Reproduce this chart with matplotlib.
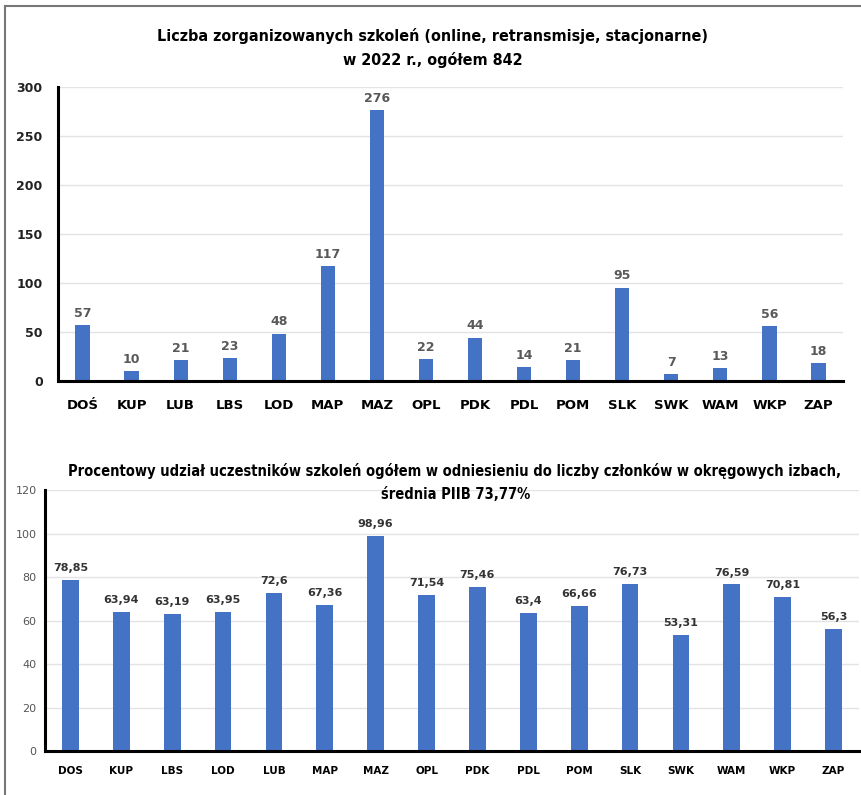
import matplotlib
matplotlib.use('Agg')
import matplotlib.pyplot as plt
from matplotlib.lines import Line2D

# Dane - liczba szkoleń
izby_1 = ['DOŚ', 'KUP', 'LUB', 'LBS', 'LOD', 'MAP', 'MAZ', 'OPL',
          'PDK', 'PDL', 'POM', 'SLK', 'SWK', 'WAM', 'WKP', 'ZAP']
szkolenia = [57, 10, 21, 23, 48, 117, 276, 22, 44, 14, 21, 95, 7, 13, 56, 18]

# Dane - udział procentowy uczestników
izby_2 = ['DOS', 'KUP', 'LBS', 'LOD', 'LUB', 'MAP', 'MAZ', 'OPL',
          'PDK', 'PDL', 'POM', 'SLK', 'SWK', 'WAM', 'WKP', 'ZAP']
udzial = [78.85, 63.94, 63.19, 63.95, 72.6, 67.36, 98.96, 71.54,
          75.46, 63.4, 66.66, 76.73, 53.31, 76.59, 70.81, 56.3]

ticks_1 = [0, 50, 100, 150, 200, 250, 300]
ticks_2 = [0, 20, 40, 60, 80, 100, 120]

KOLOR = '#4472C4'
TITLE_FONT = dict(family='DejaVu Sans', fontstretch='condensed', fontweight='bold')

fig = plt.figure(figsize=(8.62, 7.95), dpi=100)


def styl_osi(ax, ticks, size_ticks, weight_ticks, color_ticks, pad_ticks, size_cat, pad_cat):
    ax.set_yticks(ticks)
    ax.set_ylim(ticks[0], ticks[-1])
    ax.set_xlim(-0.5, 15.5)
    ax.grid(axis='y', color='#e3e3e3', linewidth=1)
    ax.set_axisbelow(True)
    for s in ['top', 'right']:
        ax.spines[s].set_visible(False)
    ax.spines['left'].set_linewidth(2.2)
    ax.spines['bottom'].set_linewidth(2.2)
    ax.tick_params(axis='y', length=0, pad=pad_ticks, labelsize=size_ticks, labelcolor=color_ticks)
    ax.tick_params(axis='x', length=0, pad=pad_cat, labelsize=size_cat)
    for t in ax.get_yticklabels():
        t.set_fontweight(weight_ticks)
    for t in ax.get_xticklabels():
        t.set_fontweight('bold')


# Wykres 1 - liczba szkoleń
ax1 = fig.add_axes([0.0673, 0.5208, 0.9107, 0.3698])
x1 = range(len(izby_1))
ax1.bar(x1, szkolenia, width=0.29, color=KOLOR)
ax1.set_xticks(list(x1))
ax1.set_xticklabels(izby_1)
styl_osi(ax1, ticks_1, 9, 'bold', '#222222', 11, 9.5, 13)
for i, v in enumerate(szkolenia):
    ax1.annotate(str(v), (i, v), xytext=(0, 4), textcoords='offset points',
                 ha='center', va='bottom', fontsize=9, fontweight='bold', color='#595959')

fig.text(0.502, 0.9547, 'Liczba zorganizowanych szkoleń (online, retransmisje, stacjonarne)',
         ha='center', va='center', fontsize=11.5, **TITLE_FONT)
fig.text(0.502, 0.9245, 'w 2022 r., ogółem 842',
         ha='center', va='center', fontsize=11.5, **TITLE_FONT)

# Wykres 2 - udział procentowy
ax2 = fig.add_axes([0.0522, 0.0553, 0.9443, 0.3283])
x2 = range(len(izby_2))
ax2.bar(x2, udzial, width=0.33, color=KOLOR)
ax2.set_xticks(list(x2))
ax2.set_xticklabels(izby_2)
styl_osi(ax2, ticks_2, 8, 'normal', '#555555', 6, 7.5, 11)
for i, v in enumerate(udzial):
    ax2.annotate(f'{v:g}'.replace('.', ','), (i, v), xytext=(0, 5), textcoords='offset points',
                 ha='center', va='bottom', fontsize=8, fontweight='bold', color='#333333')

fig.text(0.527, 0.4075, 'Procentowy udział uczestników szkoleń ogółem w odniesieniu do liczby członków w okręgowych izbach,',
         ha='center', va='center', fontsize=10.5, **TITLE_FONT)
fig.text(0.529, 0.3774, 'średnia PIIB 73,77%',
         ha='center', va='center', fontsize=10.5, **TITLE_FONT)

# Ramka
fig.add_artist(Line2D([5 / 862, 1], [1 - 6 / 795] * 2, color='#777777', linewidth=1.5))
fig.add_artist(Line2D([5 / 862] * 2, [0, 1 - 6 / 795], color='#777777', linewidth=1.5))

fig.savefig('out.png', dpi=100)
